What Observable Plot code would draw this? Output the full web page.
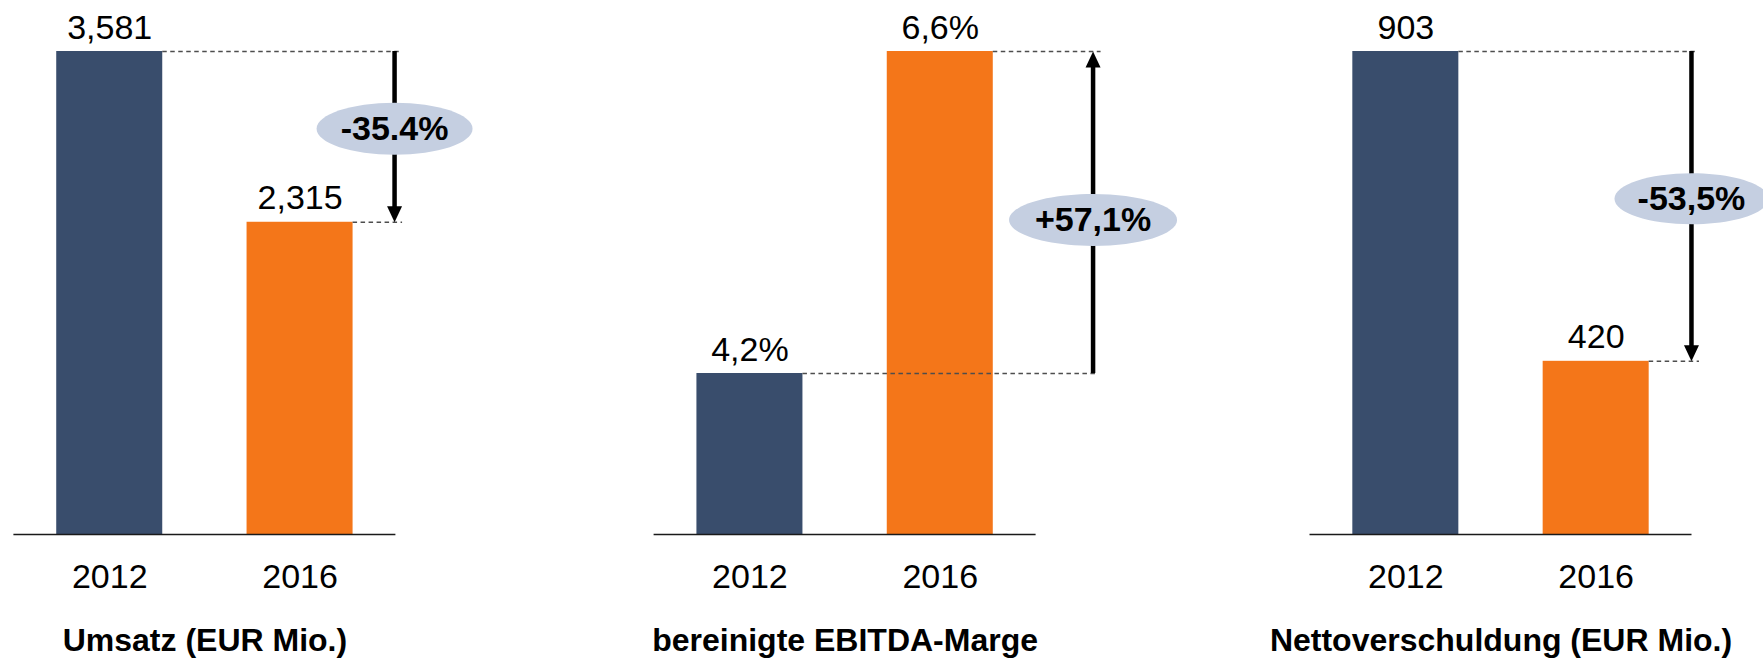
<!DOCTYPE html>
<html>
<head>
<meta charset="utf-8">
<script src="https://cdn.jsdelivr.net/npm/d3@7"></script>
<script src="https://cdn.jsdelivr.net/npm/@observablehq/plot@0.6"></script>
<style>
  html, body { margin: 0; padding: 0; background: #ffffff; }
  #charts { display: flex; width: 1763px; height: 659px; overflow: hidden; }
  #charts svg { display: block; flex: none; max-width: none; }
</style>
</head>
<body>
<div id="charts"></div>
<script>
// ---------- data ----------
const years = ["2012", "2016"];
const titles = ["Umsatz (EUR Mio.)", "bereinigte EBITDA-Marge", "Nettoverschuldung (EUR Mio.)"];
const umsatz = [3581, 2315];
const ebitdaMarge = [4.2, 6.6];
const nettoverschuldung = [903, 420];
const umsatzLabels = ["3,581", "2,315"];
const margeLabels = ["4,2%", "6,6%"];
const schuldenLabels = ["903", "420"];
const changeLabels = ["-35.4%", "+57,1%", "-53,5%"];
const axisStart = [0, 3, 150];

// ---------- styling / layout ----------
const series = [umsatz, ebitdaMarge, nettoverschuldung];
const seriesLabels = [umsatzLabels, margeLabels, schuldenLabels];
const BLUE = "#394d6c", ORANGE = "#f47619", BUBBLE = "#c5cfe1", DASH = "#4d4d4d";
const HEIGHT = 659, M_TOP = 51, M_BOTTOM = 125, FRAME_W = 382;
const PAD_IN = 0.443, PAD_OUT = 0.225;
const HEAD_W = 15, HEAD_H = 16;
const FONT = "'Liberation Sans', Arial, Helvetica, sans-serif";
const layout = [
  {width: 620, left: 13.4, arrowDx: 94.5, bubbleDy: 77.3, rx: 78, ry: 26},
  {width: 640, left: 33.6, arrowDx: 152.8, bubbleDy: 168.5, rx: 84, ry: 26},
  {width: 503, left: 49.5, arrowDx: 95.3, bubbleDy: 147.3, rx: 77, ry: 25.5}
];
const step = FRAME_W / (years.length - PAD_IN + 2 * PAD_OUT);
const bw = step * (1 - PAD_IN);

function ellipseSymbol(rx, ry) {
  const k = 0.5523;
  return {draw(c) {
    c.moveTo(rx, 0);
    c.bezierCurveTo(rx, k * ry, k * rx, ry, 0, ry);
    c.bezierCurveTo(-k * rx, ry, -rx, k * ry, -rx, 0);
    c.bezierCurveTo(-rx, -k * ry, -k * rx, -ry, 0, -ry);
    c.bezierCurveTo(k * rx, -ry, rx, -k * ry, rx, 0);
    c.closePath();
  }};
}
function headSymbol(w, h, dir) { // dir 1: pointing down, -1: pointing up; tip at origin
  return {draw(c) {
    c.moveTo(0, 0);
    c.lineTo(-w / 2, -dir * h);
    c.lineTo(w / 2, -dir * h);
    c.closePath();
  }};
}

const container = document.getElementById("charts");

layout.forEach((L, k) => {
  const values = series[k], labels = seriesLabels[k], base = axisStart[k];
  const rows = years.map((year, i) => ({year, value: values[i], label: labels[i], base}));
  const from = rows[0], to = rows[1];
  const down = to.value < from.value;
  const yTop = Math.max(from.value, to.value), yBot = Math.min(from.value, to.value);
  const extensions = [5, 8];

  const dashedMarks = rows.map((r, i) =>
    Plot.ruleY([r], {
      x1: "year", x2: () => years[1], y: "value",
      insetLeft: bw, insetRight: bw / 2 - L.arrowDx - extensions[i],
      stroke: DASH, strokeWidth: 1.5, strokeDasharray: "4.5,3.5"
    })
  );

  const plot = Plot.plot({
    width: L.width,
    height: HEIGHT,
    marginTop: M_TOP,
    marginBottom: M_BOTTOM,
    marginLeft: L.left,
    marginRight: L.width - L.left - FRAME_W,
    x: {domain: years, paddingInner: PAD_IN, paddingOuter: PAD_OUT, round: false, tickSize: 0, tickPadding: 29, label: null},
    y: {domain: [base, Math.max(...values)], axis: null},
    color: {domain: years, range: [BLUE, ORANGE]},
    style: {fontFamily: FONT, fontSize: "34px", color: "#000", background: "transparent"},
    marks: [
      Plot.barY(rows, {x: "year", y1: "base", y2: "value", fill: "year"}),
      Plot.ruleY([base], {stroke: "#1a1a1a", strokeWidth: 1.3}),
      ...dashedMarks,
      Plot.ruleX([{year: years[1], y1: yTop, y2: yBot}], {
        x: "year", y1: "y1", y2: "y2", dx: L.arrowDx, stroke: "#000", strokeWidth: 4.5,
        insetTop: down ? 0 : HEAD_H - 3, insetBottom: down ? HEAD_H - 3 : 0
      }),
      Plot.dot([to], {x: "year", y: "value", dx: L.arrowDx, symbol: headSymbol(HEAD_W, HEAD_H, down ? 1 : -1), fill: "#000", r: 8}),
      Plot.dot([{year: years[1]}], {x: "year", frameAnchor: "top", dy: L.bubbleDy, dx: L.arrowDx, symbol: ellipseSymbol(L.rx, L.ry), fill: BUBBLE, r: 10}),
      Plot.text([{year: years[1], label: changeLabels[k]}], {
        x: "year", frameAnchor: "top", dy: L.bubbleDy, dx: L.arrowDx, text: "label",
        fontWeight: "bold", fontSize: 34, lineAnchor: "middle", textAnchor: "middle"
      }),
      Plot.text(rows, {x: "year", y: "value", text: "label", dy: -13, lineAnchor: "bottom", fontSize: 34}),
      Plot.text([titles[k]], {frameAnchor: "bottom", dy: 116, lineAnchor: "bottom", textAnchor: "middle", fontWeight: "bold", fontSize: 32, text: d => d})
    ]
  });
  container.appendChild(plot);
});
</script>
</body>
</html>
